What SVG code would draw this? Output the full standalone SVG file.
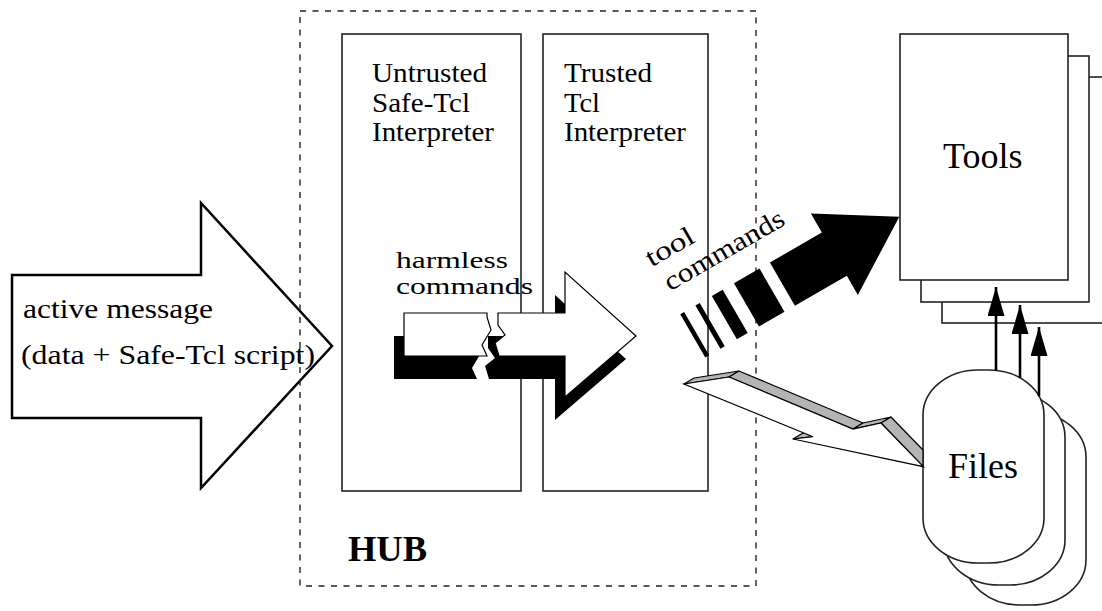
<svg xmlns="http://www.w3.org/2000/svg" width="1102" height="611" viewBox="0 0 1102 611">
<style>
text{font-family:"Liberation Serif","Times New Roman",serif;fill:#000}
.lbl{font-size:27px}
.sm{font-size:23px}
.big{font-size:36px}
.box{fill:none;stroke:#222;stroke-width:1.6}
.wbox{fill:#fff;stroke:#222;stroke-width:1.6}
.shadow{fill:#000}
.white{fill:#fff;stroke:#000;stroke-width:1.2;stroke-linejoin:miter}
.gray{fill:#b4b4b4;stroke:#000;stroke-width:1.2;stroke-linejoin:round}
.flow{stroke:#000;stroke-width:2.6;fill:none}
</style>
<defs>
<marker id="ah" markerUnits="userSpaceOnUse" markerWidth="30" markerHeight="18" refX="29" refY="8.5" orient="auto">
<path d="M0,0 L29,8.5 L0,17 Z" fill="#000"/>
</marker>
</defs>

<g id="active-message">
<polygon points="12,275 201,275 201,203 332,346 201,488 201,418 12,418" fill="#fff" stroke="#000" stroke-width="2.5" stroke-linejoin="miter"/>
<text class="lbl" x="23" y="318" textLength="190" lengthAdjust="spacingAndGlyphs">active message</text>
<text class="lbl" x="21" y="364" textLength="294" lengthAdjust="spacingAndGlyphs">(data + Safe-Tcl script)</text>
</g>

<g id="hub">
<rect x="300" y="11" width="456" height="575" fill="none" stroke="#222" stroke-width="1.4" stroke-dasharray="6 6.5"/>
<text x="348" y="561" class="big" font-weight="bold" textLength="79" lengthAdjust="spacingAndGlyphs">HUB</text>
</g>

<g id="untrusted">
<rect class="box" x="342" y="34" width="179" height="457"/>
<text class="lbl" x="372" y="82" textLength="115" lengthAdjust="spacingAndGlyphs">Untrusted</text>
<text class="lbl" x="372" y="112" textLength="98" lengthAdjust="spacingAndGlyphs">Safe-Tcl</text>
<text class="lbl" x="372" y="141" textLength="122" lengthAdjust="spacingAndGlyphs">Interpreter</text>
</g>

<g id="trusted">
<rect class="box" x="543" y="34" width="165" height="457"/>
<text class="lbl" x="564" y="82" textLength="88" lengthAdjust="spacingAndGlyphs">Trusted</text>
<text class="lbl" x="564" y="112" textLength="36" lengthAdjust="spacingAndGlyphs">Tcl</text>
<text class="lbl" x="564" y="141" textLength="122" lengthAdjust="spacingAndGlyphs">Interpreter</text>
</g>

<g id="tools">
<rect class="wbox" x="942" y="77" width="168" height="246"/>
<rect class="wbox" x="921" y="56" width="168" height="246"/>
<rect class="wbox" x="900" y="34" width="168" height="246"/>
<text class="big" x="943" y="168">Tools</text>
</g>

<g id="files">
<rect class="wbox" x="965" y="412" width="121" height="193" rx="55" ry="45"/>
<rect class="wbox" x="944" y="392" width="121" height="193" rx="55" ry="45"/>
<rect class="wbox" x="923" y="370" width="121" height="193" rx="55" ry="45"/>
<text class="big" x="948" y="478">Files</text>
</g>

<g id="connectors">
<g id="file-access-arrow">
<polygon class="gray" points="684,384 729,377 739,371 694,378"/>
<polygon class="gray" points="729,377 853,429 863,423 739,371"/>
<polygon class="gray" points="853,429 881,423 891,417 863,423"/>
<polygon class="gray" points="881,423 923,466.5 923,450 891,417"/>
<polygon class="gray" points="793,439 813,436.7 823,430.7 803,433"/>
<polygon class="white" points="684,384 729,377 853,429 881,423 923.3,466.7 793,439 813,436.7"/>
</g>

<g id="harmless-commands-arrow">
<g transform="translate(-10,23)" class="shadow">
<polygon points="404,313 487,313 487,317 491,330 482,345 487,356 404,356"/>
<polygon points="498,313 565,313 565,272 636,336 565,397 565,356 499,356 495,343 505,335 498,325"/>
</g>
<polygon class="white" points="404,313 487,313 487,317 491,330 482,345 487,356 404,356"/>
<polygon class="white" points="498,313 565,313 565,272 636,336 565,397 565,356 499,356 495,343 505,335 498,325"/>
<text class="sm" x="396" y="268" textLength="112" lengthAdjust="spacingAndGlyphs">harmless</text>
<text class="sm" x="396" y="294" textLength="137" lengthAdjust="spacingAndGlyphs">commands</text>
</g>

<g id="tool-commands-arrow" transform="translate(899.3,216.7) rotate(-30)">
<polygon points="0,0 -75,-47 -75,-25 -135,-25 -135,25 -75,25 -75,47" fill="#000"/>
<rect x="-176.5" y="-25" width="29.5" height="50" fill="#000"/>
<rect x="-202" y="-25" width="12.5" height="50" fill="#000"/>
<rect x="-221" y="-25" width="5" height="50" fill="#000"/>
<rect x="-238.5" y="-25" width="4.5" height="50" fill="#000"/>
<text class="lbl" x="-240" y="-80" textLength="52" lengthAdjust="spacingAndGlyphs">tool</text>
<text class="lbl" x="-236" y="-50" textLength="135" lengthAdjust="spacingAndGlyphs">commands</text>
</g>

<line class="flow" x1="996" y1="370.5" x2="996" y2="287" marker-end="url(#ah)"/>
<line class="flow" x1="1020" y1="377.8" x2="1020" y2="305" marker-end="url(#ah)"/>
<line class="flow" x1="1039" y1="396.2" x2="1039" y2="327" marker-end="url(#ah)"/>
</g>
</svg>
